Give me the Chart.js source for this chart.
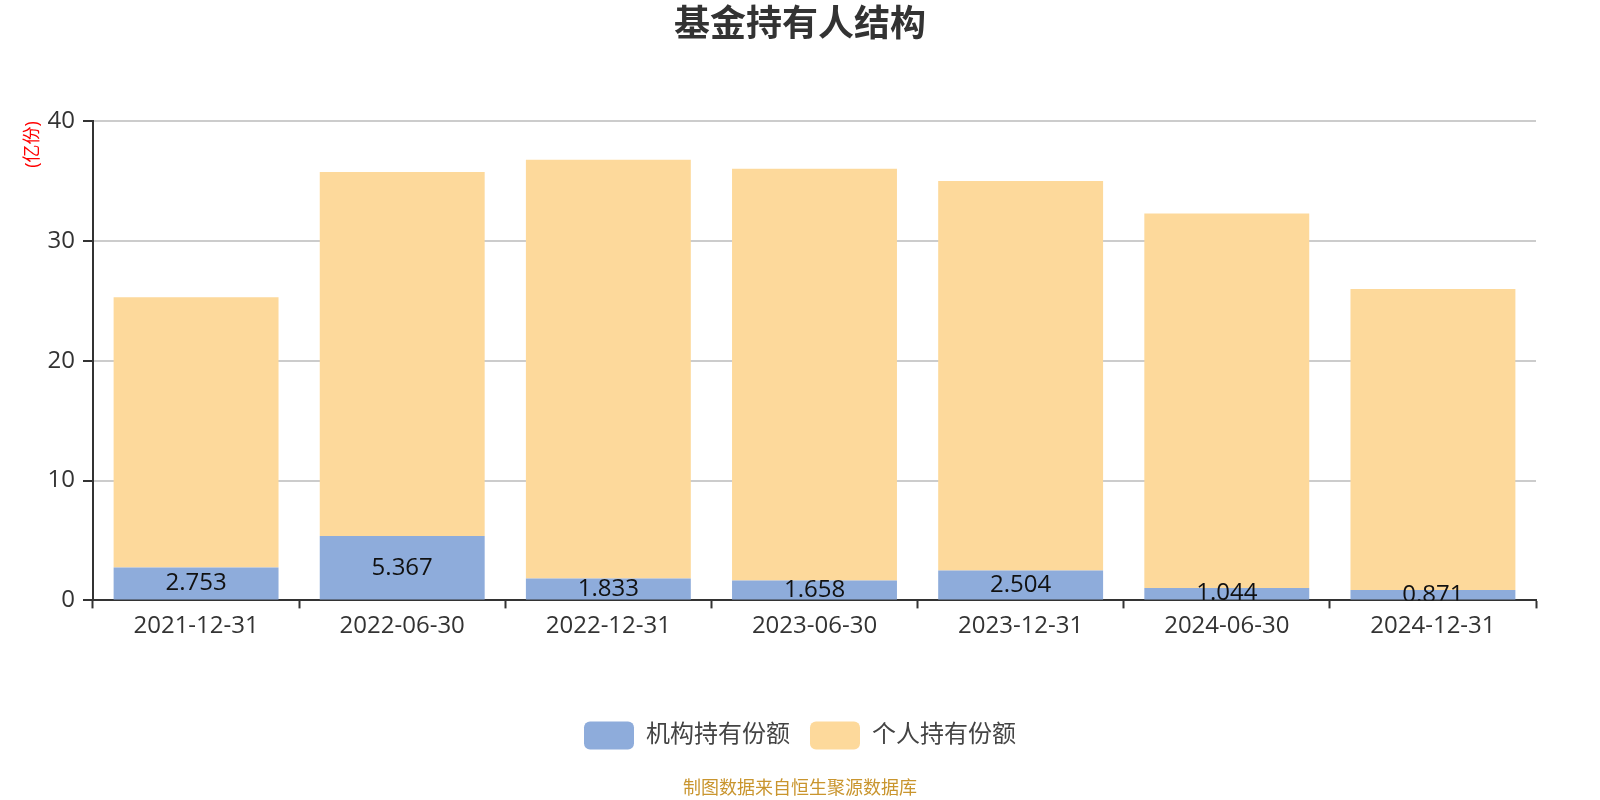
<!DOCTYPE html>
<html>
<head>
<meta charset="utf-8">
<script src="https://cdn.jsdelivr.net/npm/chart.js@4/dist/chart.umd.min.js"></script>
<style>
  body { margin: 0; background: #fff; }
  #wrap { width: 1600px; height: 800px; }
</style>
</head>
<body>
<div id="wrap"><canvas id="chart-canvas" width="1600" height="800"></canvas></div>
<script>
const FONT = '"Open Sans", "Noto Sans CJK SC", sans-serif';

const dates = ["2021-12-31", "2022-06-30", "2022-12-31", "2023-06-30", "2023-12-31", "2024-06-30", "2024-12-31"];
// 亿份
const institution = [2.753, 5.367, 1.833, 1.658, 2.504, 1.044, 0.871];
const personal = [22.55, 30.40, 34.95, 34.37, 32.50, 31.26, 25.13];

// value written in the middle of each blue bar, cut at the plot edge
const barLabels = {
    id: "barLabels",
    afterDatasetsDraw(chart) {
        const {ctx, chartArea} = chart;
        const meta = chart.getDatasetMeta(0);
        ctx.save();
        ctx.beginPath();
        ctx.rect(chartArea.left, chartArea.top, chartArea.width, chartArea.height);
        ctx.clip();
        ctx.font = "24px " + FONT;
        ctx.fillStyle = "#111";
        ctx.textAlign = "center";
        ctx.textBaseline = "middle";
        meta.data.forEach(function (bar, i) {
            ctx.fillText(institution[i].toFixed(3), bar.x, (bar.y + bar.base) / 2);
        });
        ctx.restore();
    }
};

const context = document.getElementById("chart-canvas").getContext("2d");

new Chart(context, {
    type: "bar",
    data: {
        labels: dates,
        datasets: [{
            label: "机构持有份额",
            data: institution,
            backgroundColor: "#8eacdb",
            borderWidth: 0
        }, {
            label: "个人持有份额",
            data: personal,
            backgroundColor: "#fdd99b",
            borderWidth: 0
        }]
    },
    options: {
        responsive: false,
        devicePixelRatio: 1,
        animation: false,
        events: [],
        datasets: {
            bar: { barPercentage: 0.8, categoryPercentage: 1.0 }
        },
        layout: { padding: 0 },
        scales: {
            x: {
                stacked: true,
                offset: true,
                afterFit(scale) { scale.height = 101; },
                grid: {
                    drawOnChartArea: false,
                    offset: true,
                    tickLength: 8,
                    tickColor: "#333",
                    tickWidth: 2
                },
                border: { color: "#333", width: 2 },
                ticks: {
                    color: "#333",
                    padding: 3,
                    maxRotation: 0,
                    font: { family: FONT, size: 24 }
                }
            },
            y: {
                stacked: true,
                min: 0,
                max: 40,
                afterFit(scale) { scale.width = 93; },
                grid: {
                    color: "#cccccc",
                    lineWidth: 2,
                    tickLength: 10,
                    tickColor: "#333",
                    tickWidth: 2
                },
                border: { color: "#333", width: 2 },
                ticks: {
                    stepSize: 10,
                    color: "#333",
                    padding: 8,
                    font: { family: FONT, size: 24 }
                },
                title: {
                    display: true,
                    text: "(亿份)",
                    align: "end",
                    color: "#ff0000",
                    padding: { top: 22, bottom: 0 },
                    font: { family: FONT, size: 18 }
                }
            },
            // empty right margin so the title and legend stay centred on the page
            yRight: {
                position: "right",
                min: 0,
                max: 40,
                afterFit(scale) { scale.width = 64; },
                grid: { display: false },
                border: { display: false },
                ticks: { display: false }
            }
        },
        plugins: {
            title: {
                display: true,
                text: "基金持有人结构",
                color: "#333",
                padding: { top: 4, bottom: 74 },
                font: { family: FONT, size: 36, weight: "bold" }
            },
            subtitle: {
                display: true,
                position: "bottom",
                text: "制图数据来自恒生聚源数据库",
                color: "#c9952e",
                padding: { top: 19, bottom: 0 },
                font: { family: FONT, size: 18 }
            },
            legend: {
                position: "bottom",
                labels: {
                    boxWidth: 50,
                    boxHeight: 28,
                    useBorderRadius: true,
                    borderRadius: 6,
                    padding: 20,
                    color: "#444",
                    font: { family: FONT, size: 24 }
                }
            },
            tooltip: { enabled: false }
        }
    },
    plugins: [barLabels]
});
</script>
</body>
</html>
